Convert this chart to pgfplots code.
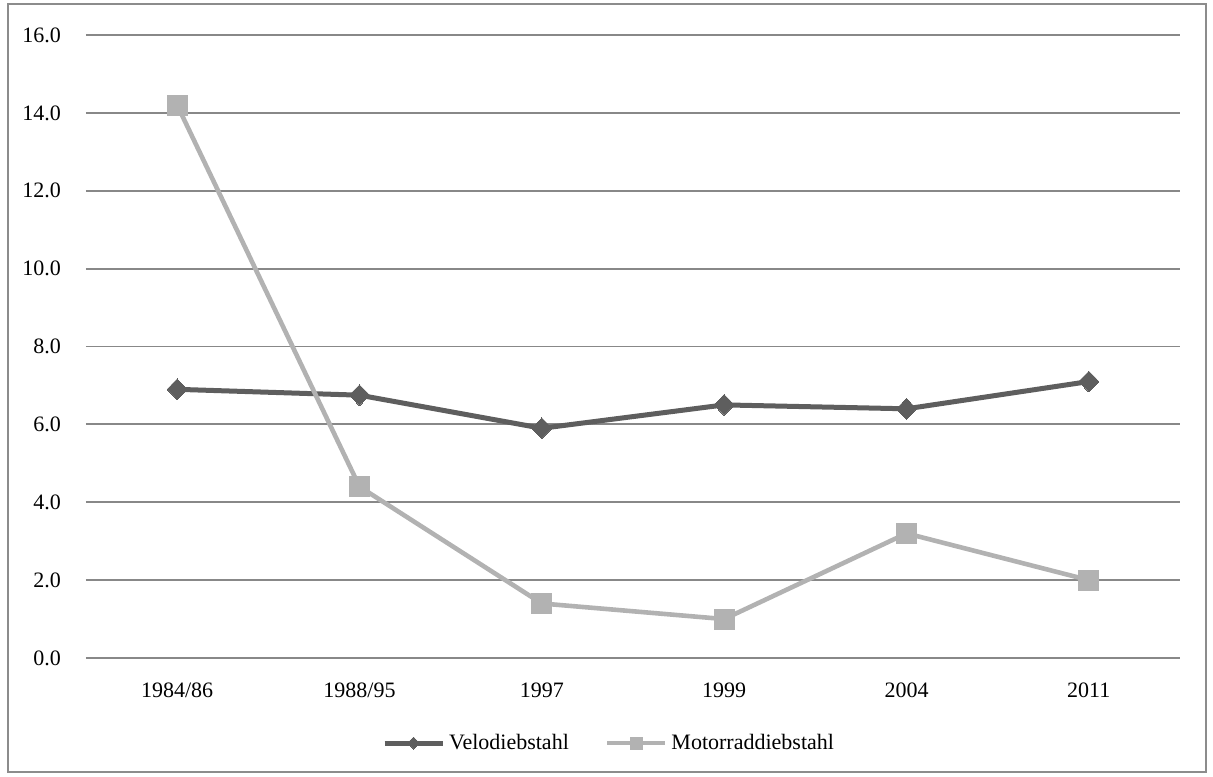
\documentclass[border=0pt]{standalone}
\usepackage{fontspec}
\setmainfont{Liberation Serif}
\usepackage{pgfplots}
\pgfplotsset{compat=1.18}

\definecolor{velo}{HTML}{5E5E5E}
\definecolor{moto}{HTML}{B2B2B2}
\definecolor{gridc}{HTML}{888888}
\definecolor{framec}{HTML}{8C8C8C}

\begin{document}
\begin{tikzpicture}
\begin{axis}[
    scale only axis,
    width=547pt, height=311.5pt,
    xmin=-0.5, xmax=5.5, ymin=0, ymax=16,
    axis line style={draw=none},
    clip=false,
    xtick={0,1,2,3,4,5},
    xticklabels={1984/86,1988/95,1997,1999,2004,2011},
    ytick={0,2,4,6,8,10,12,14,16},
    ymajorgrids,
    major grid style={gridc, line width=0.9pt},
    major tick length=0pt,
    tick style={draw=none},
    font=\fontsize{11pt}{13pt}\selectfont,
    /pgf/number format/assume math mode=true,
    yticklabel={\pgfmathprintnumber[fixed,fixed zerofill,precision=1]{\tick}},
    yticklabel style={anchor=east, xshift=-9pt},
    xticklabel style={anchor=north, yshift=-9pt},
    legend columns=2,
    legend style={draw=none, fill=none, at={(rel axis cs:0.479,-0.1365)}, anchor=center,
        /tikz/every even column/.append style={column sep=16pt},
        font=\fontsize{11pt}{13pt}\selectfont},
    legend image code/.code={
        \draw[#1, mark=none] (0cm,0cm) -- (1.02cm,0cm);
        \draw[#1, only marks, mark size=3pt] plot coordinates {(0.51cm,0cm)};
    },
]
\addplot[velo, line width=2.5pt, mark=diamond*, mark size=5.2pt,
    mark options={xscale=1.3, line width=0pt}]
    coordinates {(0,6.9) (1,6.75) (2,5.9) (3,6.5) (4,6.4) (5,7.1)};
\addlegendentry{Velodiebstahl}
\addplot[moto, line width=2.3pt, mark=square*, mark size=5pt,
    mark options={line width=0pt}]
    coordinates {(0,14.2) (1,4.4) (2,1.4) (3,1.0) (4,3.2) (5,2.0)};
\addlegendentry{Motorraddiebstahl}
\end{axis}
\draw[framec, line width=0.8pt]
    ([shift={(-39pt,-57pt)}]current axis.south west) rectangle
    ([shift={(13pt,15.5pt)}]current axis.north east);
\pgfresetboundingbox
\path[use as bounding box]
    ([shift={(-43pt,-59pt)}]current axis.south west) rectangle
    ([shift={(16.5pt,17.5pt)}]current axis.north east);
\end{tikzpicture}
\end{document}
